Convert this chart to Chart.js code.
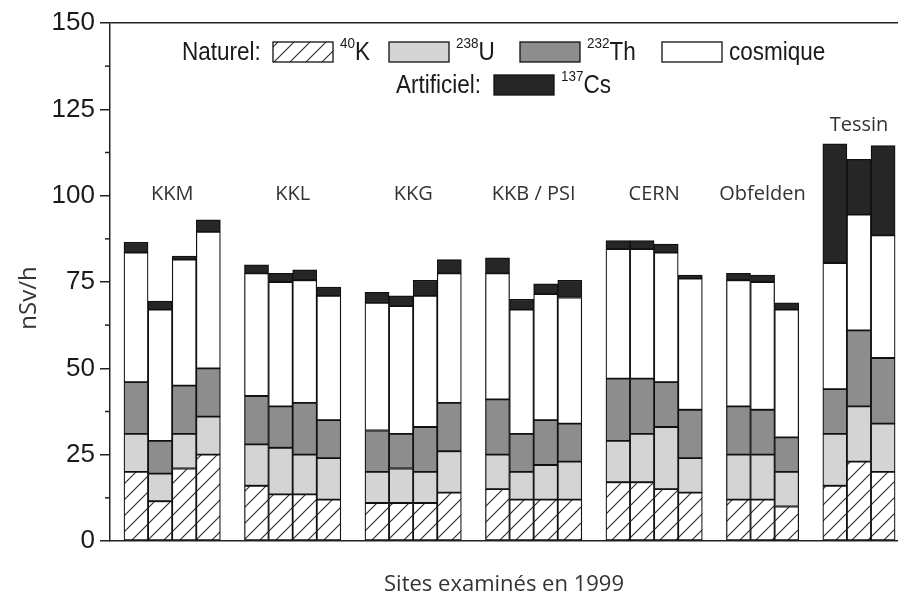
<!DOCTYPE html>
<html>
<head>
<meta charset="utf-8">
<script src="https://cdn.jsdelivr.net/npm/chart.js@4.4.1/dist/chart.umd.min.js"></script>
<style>
  html, body { margin: 0; padding: 0; background: #fff; }
</style>
</head>
<body>
<canvas id="grafico" width="898" height="599"></canvas>
<script>
// Sites et nombre de barres par site
const sites = ["KKM", "KKL", "KKG", "KKB / PSI", "CERN", "Obfelden", "Tessin"];
const barresParSite = [4, 4, 4, 4, 4, 3, 3];

// Débit de dose (nSv/h) de chaque composante, une valeur par barre
const k40      = [20, 11.5, 21, 25,   16, 13.5, 13.5, 12,   11, 11, 11, 14,   15, 12, 12, 12,   17, 17, 15, 14,   12, 12, 10,   16, 23, 20];
const u238     = [11, 8, 10, 11,      12, 13.5, 11.5, 12,   9, 10, 9, 12,     10, 8, 10, 11,    12, 14, 18, 10,   13, 13, 10,   15, 16, 14];
const th232    = [15, 9.5, 14, 14,    14, 12, 15, 11,       12, 10, 13, 14,   16, 11, 13, 11,   18, 16, 13, 14,   14, 13, 10,   13, 22, 19];
const cosmique = [37.5, 38, 36.5, 39.5, 35.5, 36, 35.5, 36, 37, 37, 38, 37.5, 36.5, 36, 36.5, 36.5, 37.5, 37.5, 37.5, 38, 36.5, 37, 37, 36.5, 33.5, 35.5];
const cs137    = [3, 2.5, 1, 3.5,     2.5, 2.5, 3, 2.5,     3, 3, 4.5, 4,     4.5, 3, 3, 5,     2.5, 2.5, 2.5, 1,  2, 2, 2,      34.5, 16, 26];

const police = "'Liberation Sans', Arial, sans-serif";
const policeFine = "'Open Sans', 'Liberation Sans', sans-serif";

// Position de chaque barre sur l'axe (un espace vide entre les sites)
const positions = [];
let case0 = 0;
barresParSite.forEach(n => {
    for (let i = 0; i < n; i++) positions.push(case0 + i);
    case0 += n + 1;
});

const ctx = document.getElementById("grafico").getContext("2d");

// Motif hachuré pour le 40K
function motifHachure() {
    const s = 16;
    const c = document.createElement("canvas");
    c.width = s; c.height = s;
    const g = c.getContext("2d");
    g.fillStyle = "#fff";
    g.fillRect(0, 0, s, s);
    g.strokeStyle = "#2a2a2a";
    g.lineWidth = 1.1;
    g.beginPath();
    g.moveTo(0, s); g.lineTo(s, 0);
    g.moveTo(-1, 1); g.lineTo(1, -1);
    g.moveTo(s - 1, s + 1); g.lineTo(s + 1, s - 1);
    g.stroke();
    return ctx.createPattern(c, "repeat");
}

function serie(label, valeurs, fond) {
    return {
        label: label,
        data: valeurs.map((v, i) => ({ x: positions[i], y: v })),
        backgroundColor: fond,
        borderColor: "#111",
        borderWidth: 1.25,
        borderSkipped: false,
        barPercentage: 1,
        categoryPercentage: 1,
        stack: "total"
    };
}

function texte(c, str, x, y, taille, echelle, fonte) {
    c.save();
    c.font = taille + "px " + (fonte || police);
    c.translate(x, y);
    c.scale(echelle, 1);
    c.fillText(str, 0, 0);
    const w = c.measureText(str).width * echelle;
    c.restore();
    return w;
}

// Légende, noms des sites, graduations secondaires
const decor = {
    id: "decor",
    afterDraw(chart) {
        const c = chart.ctx;
        const xs = chart.scales.x;
        const ys = chart.scales.y;
        const ds = chart.data.datasets;
        const zone = chart.chartArea;

        c.save();
        // graduations secondaires
        c.strokeStyle = "#222";
        c.lineWidth = 1.5;
        for (let v = 12.5; v < 150; v += 25) {
            const y = ys.getPixelForValue(v);
            c.beginPath();
            c.moveTo(zone.left - 5, y);
            c.lineTo(zone.left, y);
            c.stroke();
        }

        // titre de l'axe y
        c.fillStyle = "#333";
        c.save();
        c.translate(29, 298);
        c.rotate(-Math.PI / 2);
        c.textAlign = "center";
        c.textBaseline = "middle";
        c.font = "24px " + policeFine;
        c.fillText("nSv/h", 0, 0);
        c.restore();

        // noms des sites
        c.font = "20px " + policeFine;
        c.textAlign = "center";
        c.textBaseline = "middle";
        let k = 0;
        sites.forEach((nom, s) => {
            const n = barresParSite[s];
            const x1 = xs.getPixelForValue(positions[k]);
            const x2 = xs.getPixelForValue(positions[k + n - 1]);
            let maxi = 0;
            for (let i = k; i < k + n; i++) {
                maxi = Math.max(maxi, k40[i] + u238[i] + th232[i] + cosmique[i] + cs137[i]);
            }
            const niveau = Math.max(100.5, maxi + 5.5);
            c.fillText(nom, (x1 + x2) / 2, ys.getPixelForValue(niveau));
            k += n;
        });

        // légende
        c.textAlign = "left";
        c.textBaseline = "alphabetic";
        c.fillStyle = "#1a1a1a";
        texte(c, "Naturel:", 182, 60, 25, 0.9);
        texte(c, "Artificiel:", 396, 93, 25, 0.9);

        const items = [
            { ds: 0, x: 273, y: 42, sup: "40", nom: "K" },
            { ds: 1, x: 389, y: 42, sup: "238", nom: "U" },
            { ds: 2, x: 520, y: 42, sup: "232", nom: "Th" },
            { ds: 3, x: 662, y: 42, sup: "", nom: "cosmique" },
            { ds: 4, x: 494, y: 75, sup: "137", nom: "Cs" }
        ];
        items.forEach(it => {
            c.fillStyle = ds[it.ds].backgroundColor;
            c.fillRect(it.x, it.y, 60, 20);
            c.strokeStyle = "#111";
            c.lineWidth = 1.3;
            c.strokeRect(it.x, it.y, 60, 20);
            c.fillStyle = "#1a1a1a";
            let x = it.x + 67;
            if (it.sup) x += texte(c, it.sup, x, it.y + 6, 15, 0.9);
            texte(c, it.nom, x, it.y + 18, 25, 0.9);
        });
        c.restore();
    }
};

new Chart(ctx, {
    type: "bar",
    data: {
        datasets: [
            serie("40K", k40, motifHachure()),
            serie("238U", u238, "#d4d4d4"),
            serie("232Th", th232, "#8d8d8d"),
            serie("cosmique", cosmique, "#ffffff"),
            serie("137Cs", cs137, "#262626")
        ]
    },
    options: {
        responsive: false,
        animation: false,
        layout: { padding: { top: 23, right: 0, left: 0, bottom: 0 } },
        plugins: {
            legend: { display: false },
            tooltip: { enabled: false }
        },
        scales: {
            x: {
                type: "linear",
                bounds: "data",
                min: -1.08,
                max: 31.62,
                stacked: true,
                grid: { display: false },
                border: { color: "#222", width: 1.5 },
                ticks: { display: false },
                afterBuildTicks: s => { s.ticks = []; },
                title: {
                    display: true,
                    text: "Sites examinés en 1999",
                    color: "#333",
                    font: { size: 22, family: policeFine },
                    padding: { top: 0, bottom: 1 }
                },
                afterFit: s => { s.height = 58; }
            },
            y: {
                min: 0,
                max: 150,
                stacked: true,
                ticks: { stepSize: 25, color: "#1a1a1a", padding: 5, font: { size: 26, family: police } },
                grid: {
                    drawOnChartArea: true,
                    color: c => (c.tick && c.tick.value === 150 ? "#222" : "rgba(0,0,0,0)"),
                    tickColor: "#222",
                    tickLength: 10,
                    lineWidth: 1.5
                },
                border: { color: "#222", width: 1.5 },
                afterFit: s => { s.width = 110; }
            }
        }
    },
    plugins: [decor]
});
</script>
</body>
</html>
